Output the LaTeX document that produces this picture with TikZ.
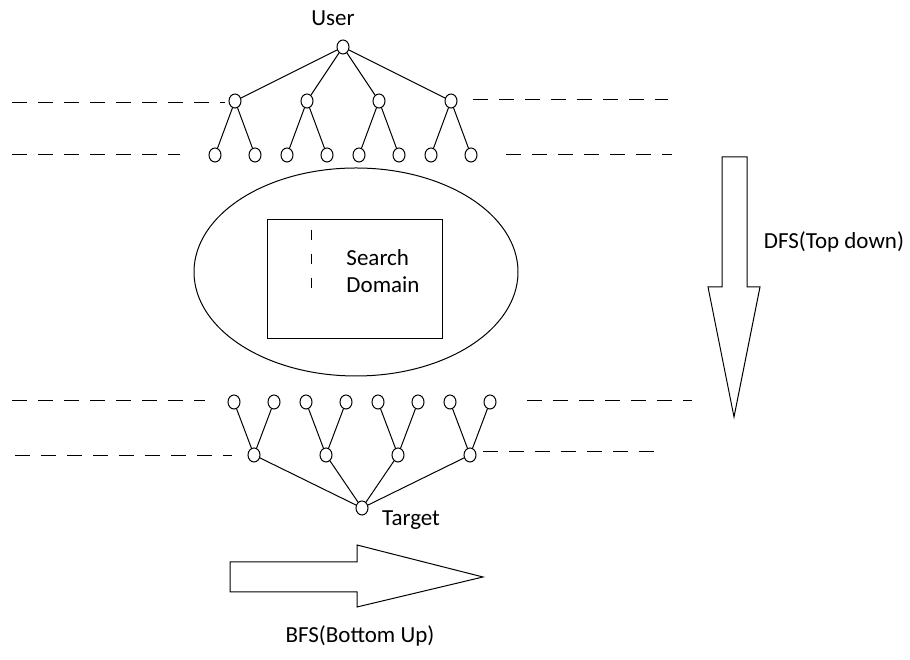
\documentclass[tikz,border=0pt]{standalone}
\usepackage{fontspec}
\setmainfont{Carlito}
\usetikzlibrary{shapes.geometric}
\tikzset{
  vertex/.style={ellipse, draw=black, inner sep=0pt, minimum width=12pt, minimum height=14pt},
  levelline/.style={dash pattern=on 15pt off 11pt},
  label text/.style={font=\fontsize{23}{27}\selectfont}
}
\begin{document}
\begin{tikzpicture}[x=1pt, y=1pt, line width=1pt, level distance=54pt,
  level 1/.style={sibling distance=72pt}, level 2/.style={sibling distance=40pt}]
\useasboundingbox (0,0) rectangle (910,660);
% top tree
\node [vertex] (user) at (343,613) {}
  child {
    node [vertex] (t1) {}
    child { node [vertex] (t11) {} }
    child { node [vertex] (t12) {} }
  }
  child {
    node [vertex] (t2) {}
    child { node [vertex] (t21) {} }
    child { node [vertex] (t22) {} }
  }
  child {
    node [vertex] (t3) {}
    child { node [vertex] (t31) {} }
    child { node [vertex] (t32) {} }
  }
  child {
    node [vertex] (t4) {}
    child { node [vertex] (t41) {} }
    child { node [vertex] (t42) {} }
  };
\node [label text] (userlabel) at (333,642) {User};
\draw [levelline] (12,557) -- (225,557);
\draw [levelline] (473,560) -- (668,560);
\draw [levelline] (12,505) -- (180,505);
\draw [levelline] (506,505) -- (672,505);
% search domain
\node [ellipse, draw=black, minimum width=324pt, minimum height=208pt] (space) at (356,388) {};
\node [rectangle, draw=black, minimum width=175pt, minimum height=119pt] (domain) at (354.5,380.5) {};
\node [label text, align=left] (domainlabel) at (383,389) {Search\\Domain};
\draw [dash pattern=on 10pt off 14pt] (311,430) -- (311,360);
% bottom tree
\node [vertex] (target) at (362,152) {}
  [grow=up, level distance=53pt]
  child {
    node [vertex] (b4) {}
    child { node [vertex] (b42) {} }
    child { node [vertex] (b41) {} }
  }
  child {
    node [vertex] (b3) {}
    child { node [vertex] (b32) {} }
    child { node [vertex] (b31) {} }
  }
  child {
    node [vertex] (b2) {}
    child { node [vertex] (b22) {} }
    child { node [vertex] (b21) {} }
  }
  child {
    node [vertex] (b1) {}
    child { node [vertex] (b12) {} }
    child { node [vertex] (b11) {} }
  };
\node [label text] (targetlabel) at (411,140) {Target};
\draw [levelline] (12,259) -- (205,259);
\draw [levelline] (527,259) -- (692,259);
\draw [levelline] (15,204) -- (232,204);
\draw [levelline] (483,208) -- (660,208);
% DFS arrow
\draw (722,503) -- (747,503) -- (747,373) -- (760,373) -- (734,243) -- (708,373) -- (722,373) -- cycle;
\node [label text] (dfslabel) at (834,418) {DFS(Top down)};
% BFS arrow
\draw (230,98) -- (357,98) -- (357,115) -- (483,83) -- (357,53) -- (357,68) -- (230,68) -- cycle;
\node [label text] (bfslabel) at (360,24) {BFS(Bottom Up)};
\end{tikzpicture}
\end{document}
